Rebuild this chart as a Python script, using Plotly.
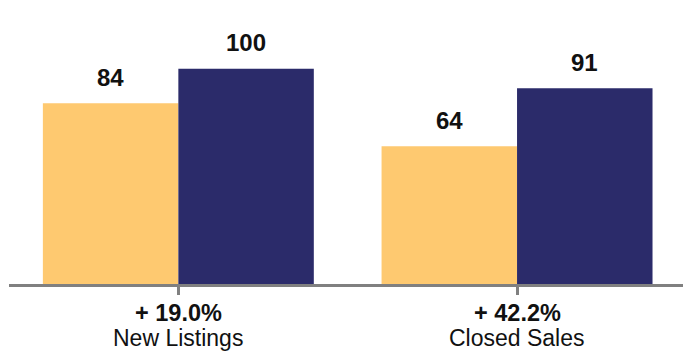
import plotly.graph_objects as go

categories = ["New Listings", "Closed Sales"]
prior_year = [84, 64]
current_year = [100, 91]
pct_change = ["+ 19.0%", "+ 42.2%"]

YELLOW = "#FEC970"
NAVY = "#2B2B6A"
FONT = "Liberation Sans, Arial, sans-serif"

x_idx = list(range(len(categories)))

fig = go.Figure()
fig.add_bar(x=x_idx, y=prior_year, marker=dict(color=YELLOW, line=dict(width=0)), name="Prior")
fig.add_bar(x=x_idx, y=current_year, marker=dict(color=NAVY, line=dict(width=0)), name="Current")

W, H = 683, 351
ml, mr, mt, mb = 9, 0, 0, 67
xrange = [-0.5, 1.49]
px_per_unit = (W - ml - mr) / (xrange[1] - xrange[0])
bargap = 0.2
bar_w = (1 - bargap) / 2 * px_per_unit

annotations = []
for i, (a, b) in enumerate(zip(prior_year, current_year)):
    for val, sh in ((a, -bar_w / 2), (b, bar_w / 2)):
        annotations.append(dict(x=i, y=val, xref="x", yref="y", text=f"<b>{val}</b>",
                                showarrow=False, xshift=sh, yshift=26, yanchor="middle",
                                font=dict(size=24, color="#111111", family=FONT)))
    annotations.append(dict(x=i, y=0, xref="x", yref="paper", text=f"<b>{pct_change[i]}</b>",
                            showarrow=False, yshift=-29, yanchor="middle",
                            font=dict(size=23.5, color="#111111", family=FONT)))
    annotations.append(dict(x=i, y=0, xref="x", yref="paper", text=categories[i],
                            showarrow=False, yshift=-54, yanchor="middle",
                            font=dict(size=23, color="#111111", family=FONT)))

fig.update_layout(
    width=W, height=H,
    margin=dict(l=ml, r=mr, t=mt, b=mb),
    barmode="group", bargap=bargap, bargroupgap=0,
    plot_bgcolor="white", paper_bgcolor="white",
    showlegend=False,
    annotations=annotations,
    xaxis=dict(range=xrange, tickvals=x_idx, ticktext=["", ""], showticklabels=False,
               showline=True, linecolor="#808080", linewidth=2.5,
               ticks="outside", ticklen=8, tickwidth=2.5, tickcolor="#808080",
               tickson="boundaries", showgrid=False, zeroline=False, fixedrange=True),
    yaxis=dict(range=[0, 132], visible=False, showgrid=False, zeroline=False, fixedrange=True),
)

fig.write_html("out.html")
